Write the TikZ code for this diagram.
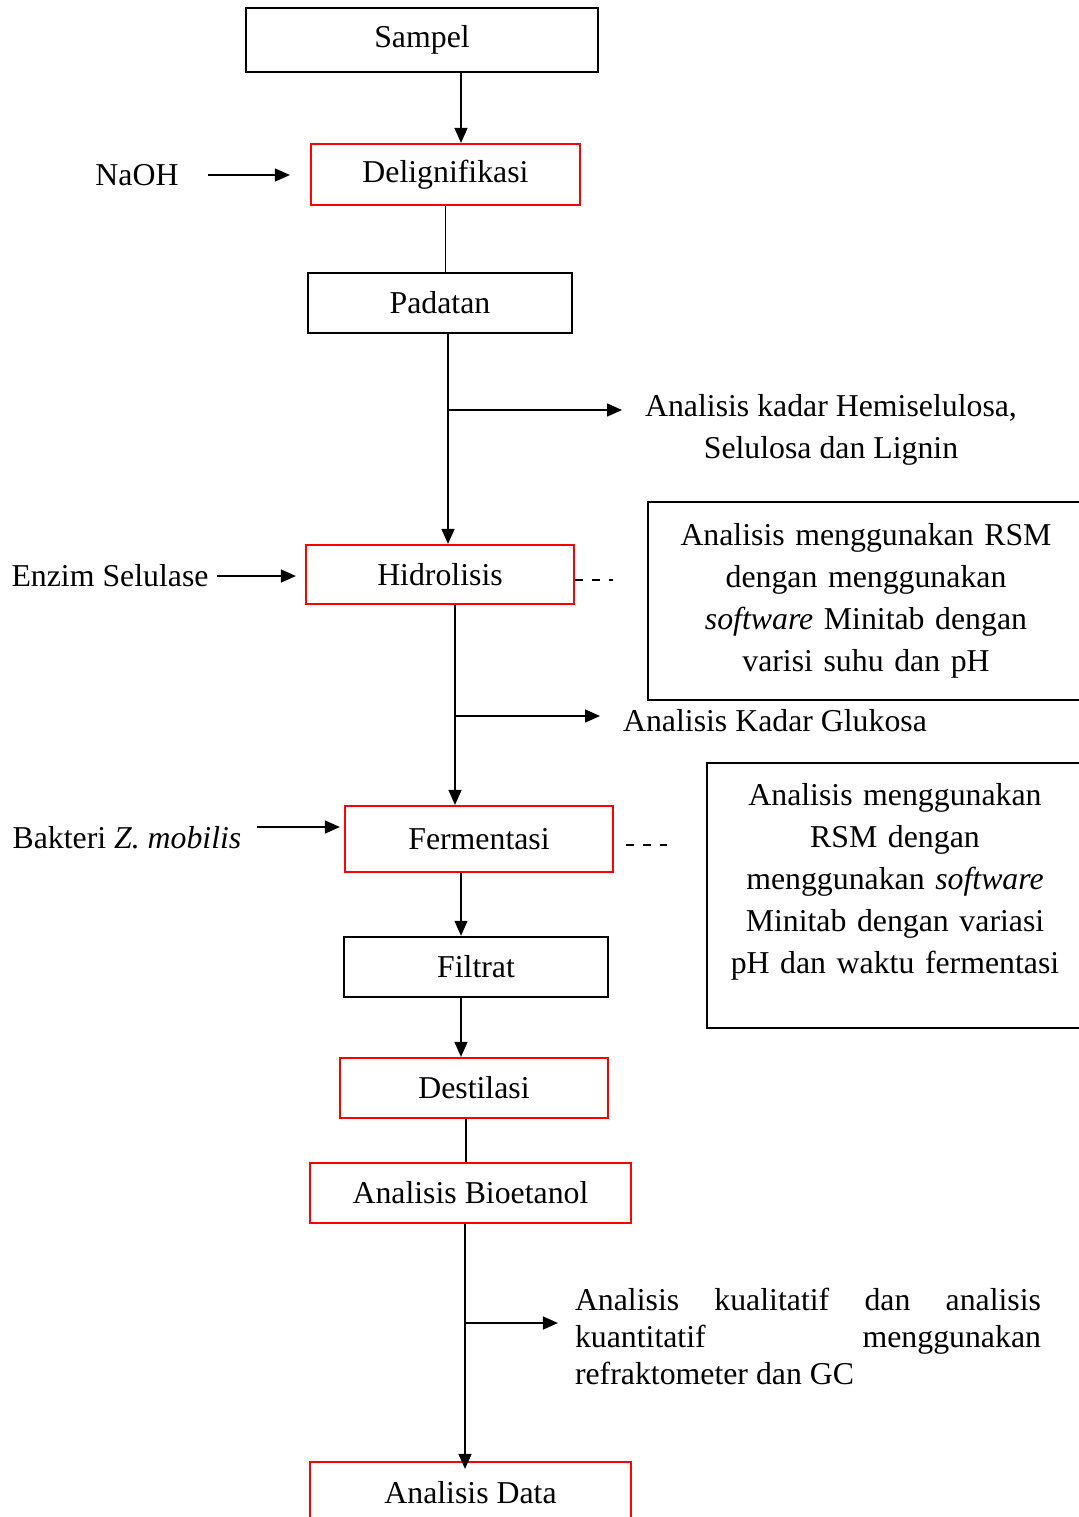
\documentclass[tikz,border=0pt]{standalone}
\usepackage{fontspec}
\setmainfont{Liberation Serif}
\usetikzlibrary{arrows.meta}
\newcommand{\bodyfont}{\fontsize{15.9pt}{21pt}\selectfont}
\tikzset{
    block/.style={
        rectangle,
        draw,
        line width=1.25pt,
        font=\bodyfont,
        inner sep=0pt
    },
    redblock/.style={
        block,
        draw=red,
        line width=1.1pt
    },
    notebox/.style={
        block,
        align=center
    },
    note/.style={
        font=\bodyfont,
        align=center
    },
    connector/.style={
        -{Triangle[length=7.5pt,width=6.5pt]},
        line width=0.7pt
    },
    link/.style={
        line width=0.7pt
    },
    dashlink/.style={
        line width=1pt,
        dash pattern=on 4pt off 4.5pt
    }
}
\begin{document}
\begin{tikzpicture}[x=0.5pt,y=-0.5pt]
\useasboundingbox (0,0) rectangle (1078,1517);

% main chain
\node[block, minimum width=176pt, minimum height=32pt] (sampel) at (422,40) {Sampel};
\node[redblock, minimum width=134.5pt, minimum height=30.5pt] (delig) at (445.5,174.5) {Delignifikasi};
\node[block, minimum width=132pt, minimum height=30pt] (padatan) at (440,303) {Padatan};
\node[redblock, minimum width=134pt, minimum height=29.5pt] (hidrolisis) at (440,574.5) {Hidrolisis};
\node[redblock, minimum width=134pt, minimum height=33pt] (fermentasi) at (479,839) {Fermentasi};
\node[block, minimum width=132pt, minimum height=30pt] (filtrat) at (476,967) {Filtrat};
\node[redblock, minimum width=134pt, minimum height=30pt] (destilasi) at (474,1088) {Destilasi};
\node[redblock, minimum width=160.5pt, minimum height=30pt] (bioetanol) at (470.5,1193) {Analisis Bioetanol};
\node[redblock, minimum width=160.5pt, minimum height=31pt] (data) at (470.5,1493) {Analisis Data};

% inputs
\node[note] (naoh) at (137,175) {NaOH};
\node[note] (enzim) at (110,576) {Enzim Selulase};
\node[note] (bakteri) at (127,838) {Bakteri \textit{Z. mobilis}};

% analyses
\node[note] (kadar) at (831,430) {Analisis kadar Hemiselulosa,\\Selulosa dan Lignin};
\node[note] (glukosa) at (775,721) {Analisis Kadar Glukosa};
\node[note, text width=233pt, align=justify, font=\fontsize{15.9pt}{18.5pt}\selectfont] (kuali) at (808,1336)
    {\hyphenpenalty=10000 Analisis kualitatif dan analisis\linebreak kuantitatif menggunakan\linebreak refraktometer dan GC};
\node[notebox, text width=200pt, minimum width=218pt, minimum height=99pt] (rsmA) at (866,601)
    {Analisis menggunakan RSM\\dengan menggunakan\\\textit{software} Minitab dengan\\varisi suhu dan pH};
\node[notebox, text width=165pt, minimum width=188pt, minimum height=132.5pt] (rsmB) at (895,895.5)
    {Analisis menggunakan\\RSM dengan\\menggunakan \textit{software}\\Minitab dengan variasi\\pH dan waktu fermentasi\\[-4pt]\mbox{}};

% branch points
\coordinate (bA) at (448,410);
\coordinate (bB) at (455,716);
\coordinate (bC) at (465,1323);

% connectors
\draw[connector] ([xshift=19.5pt]sampel.south) -- ([xshift=19.5pt]sampel.south |- delig.north);
\draw[link] (delig.south) -- (delig.south |- padatan.north);
\draw[connector] ([xshift=4pt]padatan.south) -- ([xshift=4pt]padatan.south |- hidrolisis.north);
\draw[connector, shorten >=8pt] (bA) -- (bA -| kadar.west);
\draw[connector] ([xshift=7.5pt]hidrolisis.south) -- ([xshift=7.5pt]hidrolisis.south |- fermentasi.north);
\draw[connector, shorten >=8pt] (bB) -- (bB -| glukosa.west);
\draw[connector] ([xshift=-9pt]fermentasi.south) -- ([xshift=-9pt]fermentasi.south |- filtrat.north);
\draw[connector] ([xshift=-7.5pt]filtrat.south) -- ([xshift=-7.5pt]filtrat.south |- destilasi.north);
\draw[link] ([xshift=-4pt]destilasi.south) -- ([xshift=-4pt]destilasi.south |- bioetanol.north);
\draw[connector, shorten >=-4pt] ([xshift=-2.75pt]bioetanol.south) -- ([xshift=-2.75pt]bioetanol.south |- data.north);
\draw[connector, shorten >=5pt] (bC) -- (bC -| kuali.west);

\draw[connector, shorten <=11pt, shorten >=10pt] (naoh.east) -- (naoh.east -| delig.west);
\draw[connector, shorten <=0.5pt, shorten >=4.5pt] (enzim.east) -- (enzim.east -| hidrolisis.west);
\draw[connector, shorten <=4.5pt, shorten >=2pt] ([yshift=5.5pt]bakteri.east) -- ([yshift=5.5pt]bakteri.east -| fermentasi.west);

\draw[dashlink, shorten >=17pt] ([yshift=-2.5pt]hidrolisis.east) -- ([yshift=-2.5pt]hidrolisis.east -| rsmA.west);
\draw[dashlink, shorten <=6pt, shorten >=19.5pt] ([yshift=-3pt]fermentasi.east) -- ([yshift=-3pt]fermentasi.east -| rsmB.west);
\end{tikzpicture}
\end{document}
